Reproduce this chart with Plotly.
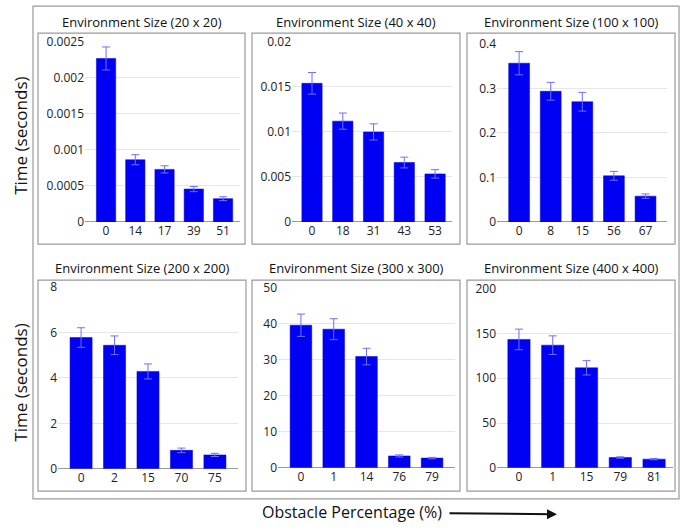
import plotly.graph_objects as go

W, H = 685, 531

# ---- data ----
titles = ["Environment Size (20 x 20)", "Environment Size (40 x 40)", "Environment Size (100 x 100)",
          "Environment Size (200 x 200)", "Environment Size (300 x 300)", "Environment Size (400 x 400)"]

cats_20 = ["0", "14", "17", "39", "51"]
time_20 = [0.00227, 0.000864, 0.00073, 0.000457, 0.000323]
err_20 = [0.00016, 0.00007, 0.00005, 0.000036, 0.000027]

cats_40 = ["0", "18", "31", "43", "53"]
time_40 = [0.0154, 0.0112, 0.0100, 0.0066, 0.00534]
err_40 = [0.0012, 0.0009, 0.0009, 0.0006, 0.00047]

cats_100 = ["0", "8", "15", "56", "67"]
time_100 = [0.3565, 0.2935, 0.270, 0.1036, 0.058]
err_100 = [0.026, 0.02, 0.021, 0.010, 0.005]

cats_200 = ["0", "2", "15", "70", "75"]
time_200 = [5.77, 5.43, 4.28, 0.81, 0.61]
err_200 = [0.43, 0.41, 0.33, 0.10, 0.07]

cats_300 = ["0", "1", "14", "76", "79"]
time_300 = [39.6, 38.5, 30.9, 3.3, 2.7]
err_300 = [3.1, 2.9, 2.3, 0.3, 0.2]

cats_400 = ["0", "1", "15", "79", "81"]
time_400 = [143.4, 137.0, 111.7, 11.5, 9.7]
err_400 = [11.5, 10.4, 8.0, 0.8, 0.7]

y_max = [0.0025, 0.02, 0.4, 8, 50, 200]
y_dtick = [0.0005, 0.005, 0.1, 2, 10, 50]

panels = [(cats_20, time_20, err_20), (cats_40, time_40, err_40), (cats_100, time_100, err_100),
          (cats_200, time_200, err_200), (cats_300, time_300, err_300), (cats_400, time_400, err_400)]

# ---- layout geometry (pixels) ----
plot_px = [
    (85, 240, 220, 34, -0.72, 4.58),
    (292, 452, 220, 34, -0.65, 4.55),
    (497, 667, 220, 36, -0.70, 4.68),
    (58, 238, 475, 287, -0.69, 4.69),
    (278, 455, 474, 288, -0.70, 4.70),
    (497, 673, 474, 289, -0.65, 4.56),
]
boxes_px = [
    (38, 245, 25, 243), (252, 460, 25, 243), (467, 675, 25, 243),
    (38, 246, 280, 498), (252, 460, 280, 498), (467, 675, 280, 498),
]

def px(x):
    return x / W

def py(y):
    return 1 - y / H

FONT = "Open Sans"
fig = go.Figure()
layout = dict(width=W, height=H, margin=dict(l=0, r=0, t=0, b=0),
              paper_bgcolor="white", plot_bgcolor="white", showlegend=False,
              bargap=0.34, font=dict(family=FONT, color="#222", size=12))
shapes = []
annotations = []

for i, ((cats, vals, errs), (xl, xr, yb, yt, r0, r1)) in enumerate(zip(panels, plot_px)):
    n = "" if i == 0 else str(i + 1)
    fig.add_trace(go.Bar(
        x=cats, y=vals, xaxis="x" + n, yaxis="y" + n,
        marker=dict(color="#0000f5", line=dict(color="#0000c8", width=0.5)),
        error_y=dict(type="data", array=errs, visible=True, color="#6f6fff", thickness=1, width=4),
    ))
    layout["xaxis" + n] = dict(domain=[px(xl), px(xr)], anchor="y" + n, type="category",
                               range=[r0, r1], showgrid=False, showline=False, ticks="",
                               tickfont=dict(size=12, color="#222", family=FONT), fixedrange=True)
    layout["yaxis" + n] = dict(domain=[py(yb), py(yt)], anchor="x" + n, range=[0, y_max[i]],
                               dtick=y_dtick[i], tick0=0, showgrid=True, gridcolor="#e6e6e6",
                               gridwidth=1, zeroline=True, zerolinecolor="#9a9a9a", zerolinewidth=1,
                               showline=False, ticks="", tickfont=dict(size=12, color="#222", family=FONT),
                               fixedrange=True)
    bx0, bx1, by0, by1 = boxes_px[i]
    shapes.append(dict(type="rect", xref="paper", yref="paper", x0=px(bx0), x1=px(bx1),
                       y0=py(by1), y1=py(by0), line=dict(color="#9a9a9a", width=1.2)))
    annotations.append(dict(text=titles[i], xref="paper", yref="paper", x=px((bx0 + bx1) / 2),
                            y=py(by0 - 12), showarrow=False, xanchor="center", yanchor="middle",
                            font=dict(size=13, color="#111", family=FONT)))

# outer frame
shapes.append(dict(type="rect", xref="paper", yref="paper", x0=px(33), x1=px(679),
                   y0=py(506), y1=py(-3), line=dict(color="#9a9a9a", width=1.2)))

# axis titles
for yc in (131, 386):
    annotations.append(dict(text="Time (seconds)", xref="paper", yref="paper", x=px(21), y=py(yc),
                            showarrow=False, textangle=-90, xanchor="center", yanchor="middle",
                            font=dict(size=17, color="#111", family=FONT)))
annotations.append(dict(text="Obstacle Percentage (%)", xref="paper", yref="paper", x=px(352), y=py(520),
                        showarrow=False, xanchor="center", yanchor="middle",
                        font=dict(size=16, color="#111", family=FONT)))
# arrow
annotations.append(dict(text="", xref="paper", yref="paper", axref="pixel", ayref="pixel",
                        x=px(557), y=py(522), ax=-109, ay=-1, showarrow=True,
                        arrowhead=2, arrowsize=1, arrowwidth=2, arrowcolor="#111"))

layout["shapes"] = shapes
layout["annotations"] = annotations
fig.update_layout(**layout)
fig.write_html("out.html")
